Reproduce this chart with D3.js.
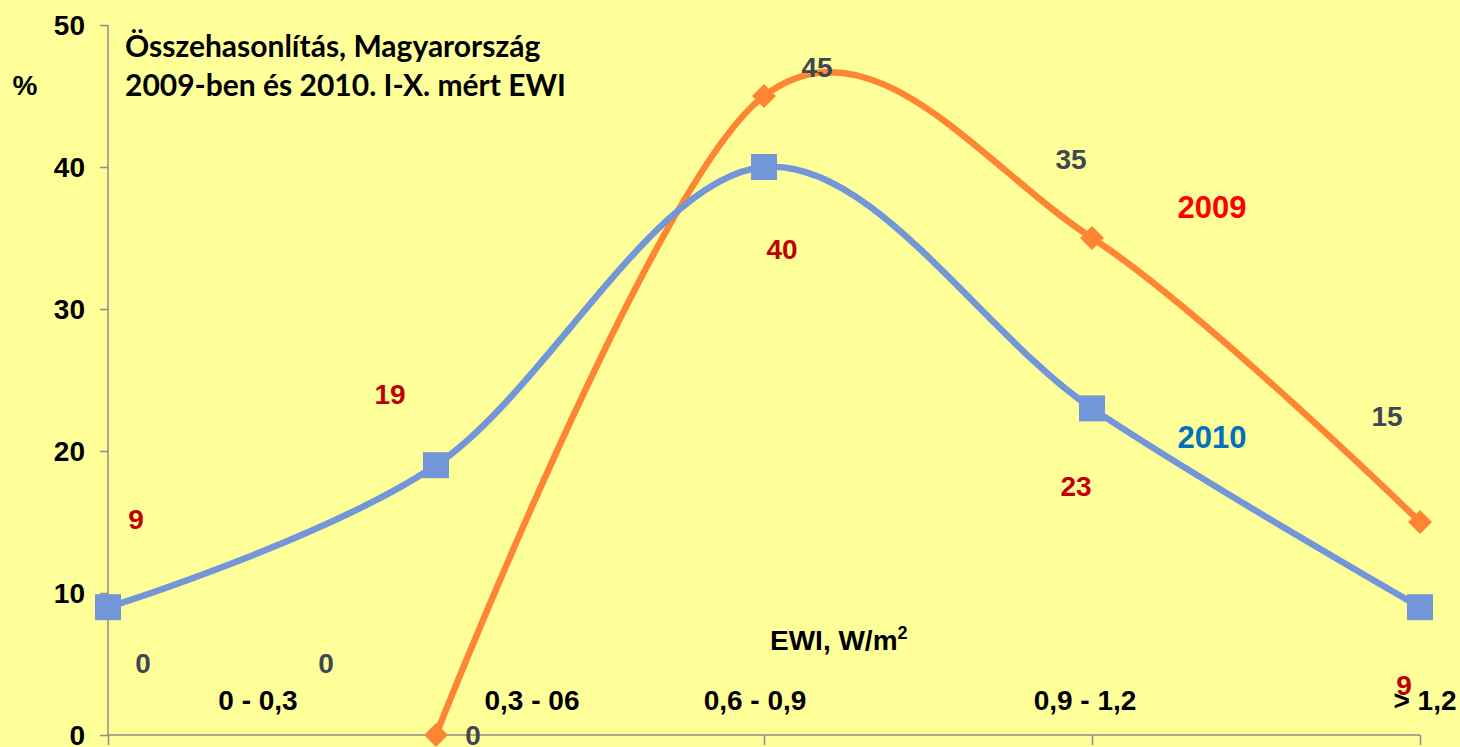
<!DOCTYPE html>
<html><head><meta charset="utf-8">
<script src="https://cdn.jsdelivr.net/npm/d3@7"></script>
<style>html,body{margin:0;padding:0;background:#FFFF99;overflow:hidden}</style>
</head><body>
<svg id="c" width="1460" height="747"></svg>
<script>
const categories = ["0 - 0,3", "0,3 - 06", "0,6 - 0,9", "0,9 - 1,2", "> 1,2"];
const values2010 = [9, 19, 40, 23, 9];
const values2009 = [null, 0, 45, 35, 15];
const yTicks = [0, 10, 20, 30, 40, 50];
// data labels: text and the point they belong to (category index, value)
const labels2010 = [
  {t:"9", i:0, v:9}, {t:"19", i:1, v:19}, {t:"40", i:2, v:40}, {t:"23", i:3, v:23}, {t:"9", i:4, v:9}
];
const labels2009 = [
  {t:"0", i:0, v:0}, {t:"0", i:0, v:0}, {t:"0", i:1, v:0}, {t:"45", i:2, v:45}, {t:"35", i:3, v:35}, {t:"15", i:4, v:15}
];
const lab2010Off = [[28,-88],[-46,-71],[18,82],[-16,78],[-16,78]];
const lab2009Off = [[35,-72],[218,-72],[37,0],[53,-29],[-21,-79],[-33,-106]];
const catLabOff = [150, 96, -9, -7, 5];

const svg = d3.select("#c");
svg.append("rect").attr("width",1460).attr("height",747).attr("fill","#FFFF99");

const x = d3.scalePoint().domain(d3.range(categories.length)).range([108,1420]);
const y = d3.scaleLinear().domain([0,50]).range([735,25]);

const lf = "Liberation Sans, Arial, sans-serif";
const axisColor = "#8C8C8C";
// y axis
const yAxis = svg.append("g").attr("transform","translate(108,0)")
  .call(d3.axisLeft(y).tickValues(yTicks).tickSize(8).tickPadding(18));
yAxis.select(".domain").attr("stroke",axisColor).attr("stroke-width",1.5).attr("d","M0,25V735");
yAxis.selectAll(".tick line").attr("stroke",axisColor).attr("stroke-width",1.5);
yAxis.selectAll(".tick text").attr("font-family",lf)
  .attr("font-weight","bold").attr("font-size",28).attr("fill","#000").attr("dy","0.35em")
  .attr("x",-23);

// x axis
const xAxis = svg.append("g").attr("transform","translate(0,735)")
  .call(d3.axisBottom(x).tickSize(10).tickFormat(""));
xAxis.select(".domain").attr("stroke",axisColor).attr("stroke-width",1.5).attr("d","M108,0H1420");
xAxis.selectAll(".tick line").attr("stroke",axisColor).attr("stroke-width",1.5);

// category labels
svg.append("g").selectAll("text").data(categories).join("text")
  .attr("x",(d,i)=>x(i)+catLabOff[i]).attr("y",700).attr("dy","0.35em").attr("text-anchor","middle")
  .attr("font-family",lf).attr("font-weight","bold")
  .attr("font-size",28).attr("fill","#000").text(d=>d);

// axis titles
svg.append("text").attr("x",25).attr("y",85).attr("dy","0.35em").attr("text-anchor","middle")
  .attr("font-family",lf).attr("font-weight","bold")
  .attr("font-size",28).text("%");
const ewi = svg.append("text").attr("x",770).attr("y",650)
  .attr("font-family",lf).attr("font-weight","bold")
  .attr("font-size",28).attr("fill","#000");
ewi.append("tspan").text("EWI, W/m");
ewi.append("tspan").attr("font-size",18).attr("dy",-11).text("2");

// chart title
const title = svg.append("text").attr("font-family","Lato, sans-serif").attr("font-weight","bold")
  .attr("font-size",30).attr("fill","#000");
title.append("tspan").attr("x",125).attr("y",57).text("Összehasonlítás, Magyarország");
title.append("tspan").attr("x",125).attr("y",96).text("2009-ben és 2010. I-X. mért EWI");

// lines
const line = d3.line().x(d=>x(d.i)).y(d=>y(d.v)).curve(d3.curveCardinal.tension(0));
const pts2010 = values2010.map((v,i)=>({i,v}));
const pts2009 = values2009.map((v,i)=>({i,v})).filter(d=>d.v!=null);

svg.append("path").datum(pts2009).attr("d",line)
  .attr("fill","none").attr("stroke","#FF8533").attr("stroke-width",6.5);
svg.append("path").datum(pts2010).attr("d",line)
  .attr("fill","none").attr("stroke","#7396D8").attr("stroke-width",6.5);

// markers
svg.append("g").selectAll("path").data(pts2009).join("path")
  .attr("transform",d=>`translate(${x(d.i)},${y(d.v)}) rotate(45)`)
  .attr("d","M-8.5,-8.5H8.5V8.5H-8.5Z").attr("fill","#FF8533");
svg.append("g").selectAll("rect").data(pts2010).join("rect")
  .attr("x",d=>x(d.i)-13).attr("y",d=>y(d.v)-13).attr("width",26).attr("height",26)
  .attr("fill","#7396D8");

// data labels
svg.append("g").selectAll("text").data(labels2010).join("text")
  .attr("x",(d,k)=>x(d.i)+lab2010Off[k][0]).attr("y",(d,k)=>y(d.v)+lab2010Off[k][1])
  .attr("text-anchor","middle").attr("dy","0.35em").attr("font-family",lf).attr("font-weight","bold")
  .attr("font-size",28).attr("fill","#C00000").text(d=>d.t);
svg.append("g").selectAll("text").data(labels2009).join("text")
  .attr("x",(d,k)=>x(d.i)+lab2009Off[k][0]).attr("y",(d,k)=>y(d.v)+lab2009Off[k][1])
  .attr("text-anchor","middle").attr("dy","0.35em").attr("font-family",lf).attr("font-weight","bold")
  .attr("font-size",28).attr("fill","#404652").text(d=>d.t);

// series names
svg.append("text").attr("x",1212).attr("y",207).attr("dy","0.35em").attr("text-anchor","middle")
  .attr("font-family",lf).attr("font-weight","bold").attr("font-size",31).attr("fill","#FF0000").text("2009");
svg.append("text").attr("x",1212).attr("y",437).attr("dy","0.35em").attr("text-anchor","middle")
  .attr("font-family",lf).attr("font-weight","bold").attr("font-size",31).attr("fill","#0070C0").text("2010");
</script>
</body></html>
